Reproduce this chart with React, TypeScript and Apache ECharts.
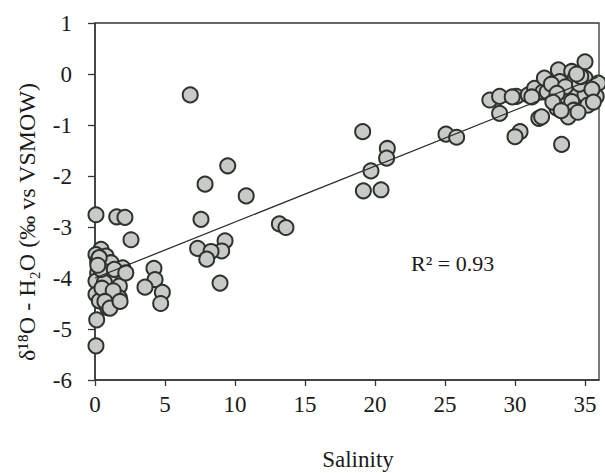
import React, { useEffect, useRef } from "react";
import * as echarts from "echarts";

// Salinity / δ18O pairs, grouped by region of the plot
const lowSalinity = [0.07, 1.55, 2.14, 2.57, 0.43, 0.07, 0.19, 0.79, 1.14, 1.98, 1.62, 0.19, 1.02, 0.07, 0.67, 1.74, 0.07, 0.79, 1.74, 0.9, 0.31, 0.43, 1.38, 2.2, 0.12, 0.07, 0.3, 0.5, 1.3, 0.2, 0.71, 1.07, 1.79];
const lowD18O = [-2.76, -2.8, -2.81, -3.25, -3.44, -3.54, -3.67, -3.57, -3.7, -3.8, -3.93, -3.9, -3.96, -4.06, -4.09, -4.16, -4.32, -4.35, -4.39, -4.58, -4.45, -3.83, -3.83, -3.9, -4.82, -5.33, -3.6, -4.2, -4.25, -3.75, -4.46, -4.59, -4.46];

const midSalinity = [4.21, 4.29, 3.57, 4.81, 4.69, 6.8, 9.48, 7.86, 10.8, 7.57, 13.17, 13.64, 7.33, 9.29, 9.05, 8.29, 7.98, 8.93, 19.12, 20.88, 20.83, 19.71, 19.17, 20.43, 25.07, 25.83];
const midD18O = [-3.81, -4.03, -4.18, -4.28, -4.5, -0.41, -1.8, -2.16, -2.39, -2.85, -2.94, -3.01, -3.42, -3.27, -3.47, -3.48, -3.63, -4.1, -1.13, -1.46, -1.65, -1.9, -2.29, -2.27, -1.18, -1.24];

const highSalinity = [28.2, 28.9, 28.9, 30.1, 30.95, 31.4, 32.0, 31.7, 30.36, 30.0, 33.33, 35.0, 33.1, 34.05, 32.1, 33.2, 35.0, 34.3, 35.95, 32.3, 34.3, 33.2, 35.0, 35.8, 34.05, 33.0, 34.2, 35.2, 33.8, 31.9, 32.6, 33.6, 34.6, 33.0, 34.7, 32.7, 35.5, 34.5, 33.3, 31.2, 29.8, 35.6, 34.4];
const highD18O = [-0.51, -0.44, -0.77, -0.44, -0.41, -0.28, -0.35, -0.87, -1.13, -1.23, -1.38, 0.24, 0.08, 0.05, -0.08, -0.15, -0.08, -0.08, -0.18, -0.35, -0.35, -0.48, -0.41, -0.44, -0.54, -0.67, -0.71, -0.61, -0.84, -0.84, -0.2, -0.25, -0.2, -0.38, -0.05, -0.55, -0.3, -0.75, -0.72, -0.45, -0.45, -0.55, 0.0];

// Linear trend line end points
const trendSalinity = [0, 35.9];
const trendD18O = [-4.0, -0.06];

const xTicks = [0, 5, 10, 15, 20, 25, 30, 35];
const yTicks = [-6, -5, -4, -3, -2, -1, 0, 1];
const r2Label = "R\u00b2 = 0.93";

const FONT = "Liberation Serif";

export default function App() {
  const ref = useRef<HTMLDivElement>(null);
  useEffect(() => {
    if (!ref.current) return;
    const chart = echarts.init(ref.current, undefined, { renderer: "svg" });
    const pts: number[][] = [];
    [[lowSalinity, lowD18O], [midSalinity, midD18O], [highSalinity, highD18O]].forEach(([xs, ys]) => {
      xs.forEach((x, i) => pts.push([x, ys[i]]));
    });
    const axisColor = "#333833";
    chart.setOption({
      animation: false,
      backgroundColor: "#ffffff",
      grid: {
        left: 95,
        top: 23,
        width: 504,
        height: 357,
        show: true,
        borderColor: axisColor,
        borderWidth: 1.3,
        backgroundColor: "transparent",
      },
      xAxis: {
        type: "value",
        min: xTicks[0],
        max: 36,
        interval: 5,
        axisLine: { show: true, onZero: false, lineStyle: { color: axisColor, width: 1.5 } },
        axisTick: { show: true, inside: false, length: 6, lineStyle: { color: axisColor, width: 1.3 } },
        splitLine: { show: false },
        axisLabel: {
          margin: 13,
          fontFamily: FONT,
          fontSize: 23,
          color: "#1a1a1a",
          showMaxLabel: false,
          formatter: (v: number) => (xTicks.includes(v) ? String(v) : ""),
        },
      },
      yAxis: {
        type: "value",
        min: yTicks[0],
        max: yTicks[yTicks.length - 1],
        interval: 1,
        axisLine: { show: true, onZero: false, lineStyle: { color: axisColor, width: 1.5 } },
        axisTick: { show: true, inside: false, length: 7, lineStyle: { color: axisColor, width: 1.3 } },
        splitLine: { show: false },
        axisLabel: {
          margin: 23,
          fontFamily: FONT,
          fontSize: 23,
          color: "#1a1a1a",
        },
      },
      series: [
        {
          type: "line",
          data: trendSalinity.map((x, i) => [x, trendD18O[i]]),
          showSymbol: false,
          symbol: "none",
          lineStyle: { color: "#2a2f2a", width: 1.3 },
          z: 3,
        },
        {
          type: "scatter",
          data: pts,
          symbol: "circle",
          symbolSize: 15,
          itemStyle: { color: "#c8cac6", borderColor: "#2c332d", borderWidth: 2, opacity: 1 },
          z: 2,
        },
      ],
      graphic: [
        {
          type: "text",
          x: 27,
          y: 222,
          rotation: Math.PI / 2,
          style: {
            text: "\u03b4\u00b9\u2078O - H\u2082O (\u2030 vs VSMOW)",
            fontFamily: FONT,
            fontSize: 24,
            fill: "#1a1a1a",
            textAlign: "center",
            textVerticalAlign: "middle",
          },
        },
        {
          type: "text",
          x: 358,
          y: 459,
          style: {
            text: "Salinity",
            fontFamily: FONT,
            fontSize: 23,
            fill: "#1a1a1a",
            textAlign: "center",
            textVerticalAlign: "middle",
          },
        },
        {
          type: "text",
          x: 411,
          y: 263,
          style: {
            text: r2Label,
            fontFamily: FONT,
            fontSize: 22,
            fill: "#1a1a1a",
            textAlign: "left",
            textVerticalAlign: "middle",
          },
        },
      ],
    });
    return () => chart.dispose();
  }, []);
  return (
    <div
      ref={ref}
      style={{ position: "fixed", left: 0, top: 0, width: 605, height: 473, background: "#fff" }}
    />
  );
}
